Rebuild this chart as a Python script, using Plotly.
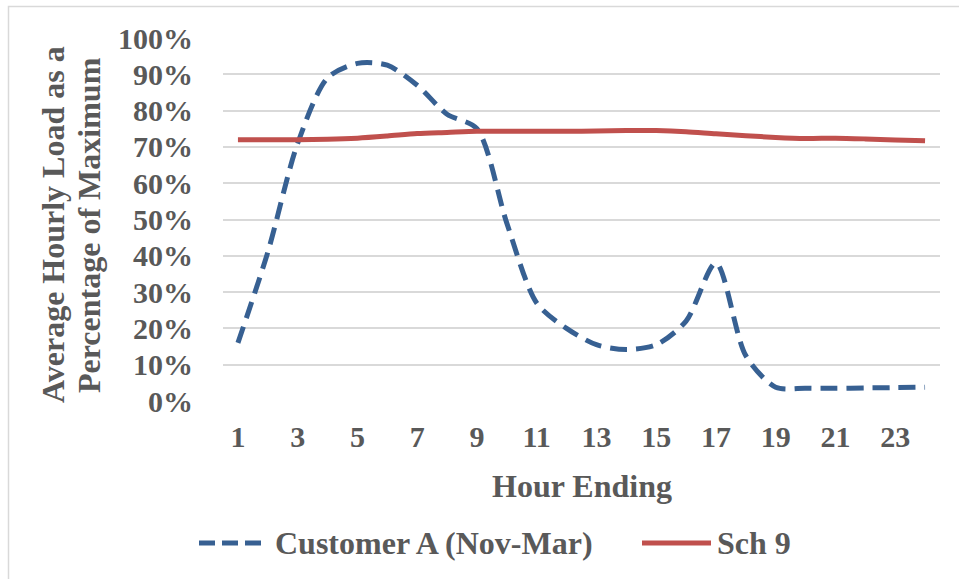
import plotly.graph_objects as go

# Hour ending (1..24)
hours = list(range(1, 25))
tick_hours = list(range(1, 24, 2))

# Average hourly load as a fraction of maximum
customer_a = [0.16, 0.41, 0.71, 0.89, 0.93, 0.925, 0.87, 0.79, 0.75, 0.49, 0.27, 0.20,
              0.155, 0.142, 0.155, 0.22, 0.38, 0.125, 0.038, 0.035, 0.035, 0.036, 0.037, 0.038]
sch_9 = [0.720, 0.720, 0.720, 0.721, 0.724, 0.730, 0.737, 0.740, 0.743, 0.743, 0.743, 0.743,
         0.744, 0.745, 0.745, 0.742, 0.736, 0.731, 0.726, 0.723, 0.724, 0.722, 0.719, 0.717]

series_names = ["Customer A (Nov-Mar)", "Sch 9"]
y_title_lines = ["Average Hourly Load as a", "Percentage of Maximum"]
blue = "#376092"
red = "#C0504D"
text_grey = "#595959"
grid_grey = "#D9D9D9"
font_family = "Liberation Serif"

W, H = 959, 579
L, R, T, B = 223, 940, 38, 401   # plot area in pixels


def bold_font(size):
    return dict(family=font_family, size=size, color=text_grey, weight="bold")


fig = go.Figure()
fig.add_trace(go.Scatter(
    x=hours, y=customer_a, name=series_names[0], mode="lines",
    line=dict(color=blue, width=5, dash="17px,9px", shape="spline", smoothing=0.8),
    showlegend=False,
))
fig.add_trace(go.Scatter(
    x=hours, y=sch_9, name=series_names[1], mode="lines",
    line=dict(color=red, width=5, shape="spline", smoothing=0.8),
    showlegend=False,
))


def px_x(p):
    return (p - L) / (R - L)


def px_y(p):
    return (B - p) / (B - T)


shapes = [
    # outer chart border
    dict(type="rect", xref="paper", yref="paper",
         x0=px_x(8.5), x1=px_x(975), y0=px_y(590), y1=px_y(6.5),
         line=dict(color=grid_grey, width=1.5), fillcolor="rgba(0,0,0,0)", layer="below"),
    # legend samples
    dict(type="line", xref="paper", yref="paper",
         x0=px_x(199), x1=px_x(262), y0=px_y(543), y1=px_y(543),
         line=dict(color=blue, width=5, dash="16px,7px")),
    dict(type="line", xref="paper", yref="paper",
         x0=px_x(642), x1=px_x(711), y0=px_y(543), y1=px_y(543),
         line=dict(color=red, width=5)),
]

annotations = [
    dict(text=y_title_lines[0], textangle=-90,
         xref="paper", yref="paper", x=px_x(53), y=px_y(225), showarrow=False,
         font=bold_font(32), xanchor="center", yanchor="middle"),
    dict(text=y_title_lines[1], textangle=-90,
         xref="paper", yref="paper", x=px_x(89), y=px_y(225), showarrow=False,
         font=bold_font(32), xanchor="center", yanchor="middle"),
    dict(text="Hour Ending", xref="paper", yref="paper", x=px_x(582), y=px_y(486),
         showarrow=False, font=bold_font(32), xanchor="center", yanchor="middle"),
    dict(text=series_names[0], xref="paper", yref="paper", x=px_x(273), y=px_y(543),
         showarrow=False, font=bold_font(32), xanchor="left", yanchor="middle"),
    dict(text=series_names[1], xref="paper", yref="paper", x=px_x(715), y=px_y(543),
         showarrow=False, font=bold_font(32), xanchor="left", yanchor="middle"),
]

fig.update_layout(
    width=W, height=H,
    margin=dict(l=L, r=W - R, t=T, b=H - B, pad=0),
    paper_bgcolor="white", plot_bgcolor="white",
    shapes=shapes, annotations=annotations,
    xaxis=dict(range=[0.5, 24.5], tickmode="array", tickvals=tick_hours,
               ticktext=[str(h) for h in tick_hours], showgrid=False, zeroline=False,
               showline=False, ticks="", ticklabelstandoff=15,
               tickfont=bold_font(30)),
    yaxis=dict(range=[0, 1], tickmode="array", tickvals=[i / 10 for i in range(11)],
               tickformat=".0%", showgrid=True, gridcolor=grid_grey, gridwidth=1.5,
               zeroline=False, showline=False, ticks="", ticklabelstandoff=29,
               tickfont=bold_font(30)),
    showlegend=False,
)

fig.write_html("out.html")
